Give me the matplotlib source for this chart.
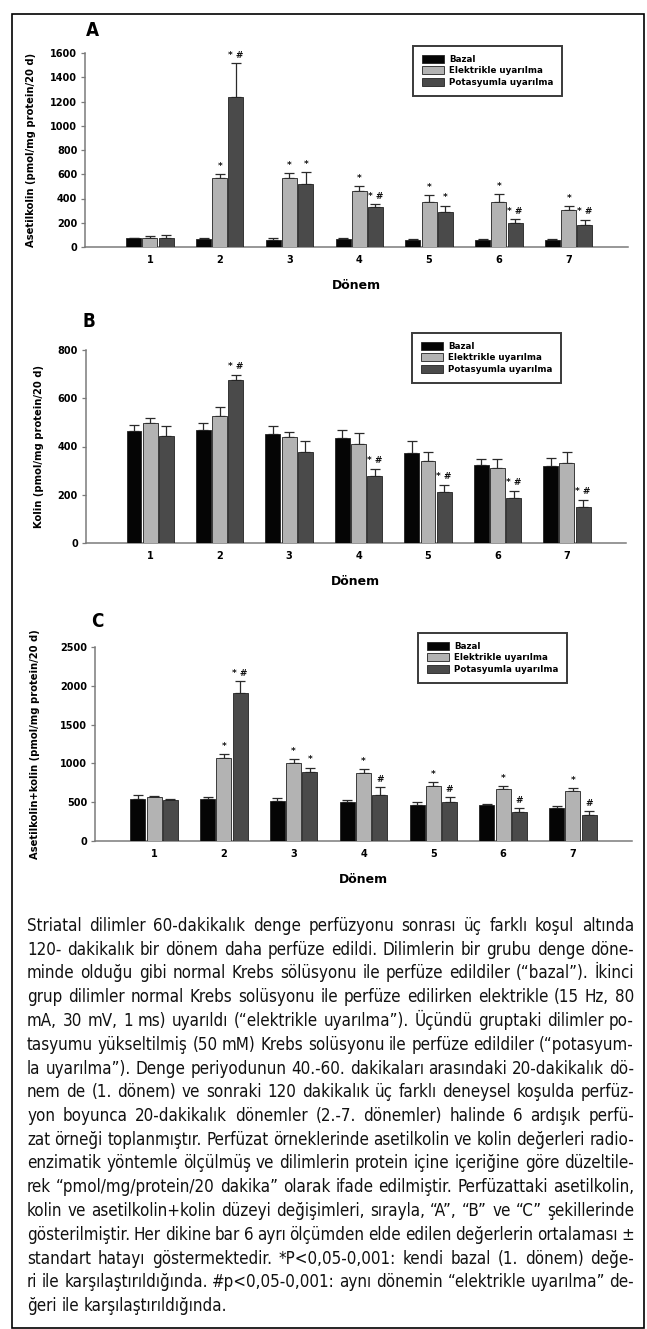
import matplotlib
matplotlib.use("Agg")
import matplotlib.pyplot as plt
import numpy as np
from matplotlib import font_manager as fm
from matplotlib.patches import Rectangle

W, H = 647, 1329
DPI = 100

periods = ['1', '2', '3', '4', '5', '6', '7']
series_names = ['Bazal', 'Elektrikle uyarılma', 'Potasyumla uyarılma']

A_bazal = [72, 66, 61, 66, 58, 58, 61]
A_bazal_err = [5, 5, 12, 6, 5, 5, 4]
A_elek = [72, 566, 571, 463, 372, 370, 309]
A_elek_err = [20, 35, 39, 39, 53, 66, 28]
A_potas = [72, 1241, 521, 326, 292, 196, 182]
A_potas_err = [27, 276, 94, 27, 47, 33, 41]
A_elek_sig = ['', '*', '*', '*', '*', '*', '*']
A_potas_sig = ['', '* #', '*', '* #', '*', '* #', '* #']

B_bazal = [463, 470, 450, 434, 374, 324, 320]
B_bazal_err = [27, 27, 33, 35, 48, 24, 34]
B_elek = [497, 528, 440, 410, 338, 310, 330]
B_elek_err = [22, 35, 19, 44, 39, 38, 48]
B_potas = [444, 676, 379, 276, 210, 185, 150]
B_potas_err = [43, 21, 43, 32, 31, 32, 29]
B_elek_sig = ['', '', '', '', '', '', '']
B_potas_sig = ['', '* #', '', '* #', '* #', '* #', '* #']

C_bazal = [541, 541, 520, 503, 468, 460, 430]
C_bazal_err = [47, 26, 38, 30, 39, 21, 25]
C_elek = [567, 1070, 1009, 872, 709, 666, 640]
C_elek_err = [13, 47, 48, 52, 51, 38, 43]
C_potas = [524, 1907, 885, 597, 503, 378, 339]
C_potas_err = [21, 151, 60, 95, 60, 47, 43]
C_elek_sig = ['', '*', '*', '*', '*', '*', '*']
C_potas_sig = ['', '* #', '*', '#', '#', '#', '#']

A_ticks = [0, 200, 400, 600, 800, 1000, 1200, 1400, 1600]
B_ticks = [0, 200, 400, 600, 800]
C_ticks = [0, 500, 1000, 1500, 2000, 2500]

caption_lines = [
    "Striatal dilimler 60-dakikalık denge perfüzyonu sonrası üç farklı koşul altında",
    "120- dakikalık bir dönem daha perfüze edildi. Dilimlerin bir grubu denge döne-",
    "minde olduğu gibi normal Krebs sölüsyonu ile perfüze edildiler (“bazal”). İkinci",
    "grup dilimler normal Krebs solüsyonu ile perfüze edilirken elektrikle (15 Hz, 80",
    "mA, 30 mV, 1 ms) uyarıldı (“elektrikle uyarılma”). Üçündü gruptaki dilimler po-",
    "tasyumu yükseltilmiş (50 mM) Krebs solüsyonu ile perfüze edildiler (“potasyum-",
    "la uyarılma”). Denge periyodunun 40.-60. dakikaları arasındaki 20-dakikalık dö-",
    "nem de (1. dönem) ve sonraki 120 dakikalık üç farklı deneysel koşulda perfüz-",
    "yon boyunca 20-dakikalık dönemler (2.-7. dönemler) halinde 6 ardışık perfü-",
    "zat örneği toplanmıştır. Perfüzat örneklerinde asetilkolin ve kolin değerleri radio-",
    "enzimatik yöntemle ölçülmüş ve dilimlerin protein içine içeriğine göre düzeltile-",
    "rek “pmol/mg/protein/20 dakika” olarak ifade edilmiştir. Perfüzattaki asetilkolin,",
    "kolin ve asetilkolin+kolin düzeyi değişimleri, sırayla, “A”, “B” ve “C” şekillerinde",
    "gösterilmiştir. Her dikine bar 6 ayrı ölçümden elde edilen değerlerin ortalaması ±",
    "standart hatayı göstermektedir. *P<0,05-0,001: kendi bazal (1. dönem) değe-",
    "ri ile karşılaştırıldığında. #p<0,05-0,001: aynı dönemin “elektrikle uyarılma” de-",
    "ğeri ile karşılaştırıldığında.",
]

names = {f.name for f in fm.fontManager.ttflist}
def pick(cands, default):
    for c in cands:
        if c in names:
            return c
    return default

narrow = pick(['Liberation Sans Narrow', 'Arial Narrow', 'Nimbus Sans Narrow'], None)
if narrow:
    cap_prop = dict(family=narrow)
else:
    cap_prop = dict(family='DejaVu Sans', stretch='condensed')
chart_font = 'DejaVu Sans'

colors = ['#050505', '#b3b3b3', '#4a4a4a']
axis_gray = '#7a7a7a'

fig = plt.figure(figsize=(W / DPI, H / DPI), dpi=DPI)
fig.patch.set_facecolor('white')

def fx(px):
    return px / W
def fy(py):
    return 1 - py / H

# outer frame
fig.add_artist(Rectangle((fx(12), fy(1328)), fx(644) - fx(12), fy(14) - fy(1328),
                         transform=fig.transFigure, fill=False, ec='black', lw=1.2))

def panel(left, right, top, bottom, xlim, data, errs, sigs, ticks, ylabel, ylab_x,
          letter, letter_xy, leg_xy):
    ax = fig.add_axes([fx(left), fy(bottom), fx(right) - fx(left), fy(top) - fy(bottom)])
    x = np.arange(1, len(periods) + 1)
    off = 0.232
    wbar = 0.215
    for i, (vals, er, sig) in enumerate(zip(data, errs, sigs)):
        xi = x + (i - 1) * off
        ax.bar(xi, vals, width=wbar, color=colors[i], edgecolor='#222222', lw=0.6,
               label=series_names[i], zorder=3)
        ax.errorbar(xi, vals, yerr=[np.zeros(len(er)), er], fmt='none',
                    ecolor='#2a2a2a', elinewidth=0.9, capsize=3.6, capthick=0.9, zorder=2)
        if sig is not None:
            for xx, v, e, s in zip(xi, vals, er, sig):
                if s:
                    ax.annotate(s, (xx, v + e), xytext=(0, 2.5), textcoords='offset points',
                                ha='center', va='bottom', fontsize=6.5, fontweight='bold',
                                family=chart_font, color='#111111')
    ax.set_xlim(*xlim)
    ax.set_ylim(0, ticks[-1])
    ax.set_yticks(ticks)
    ax.set_xticks(x)
    ax.set_xticklabels(periods)
    for sp in ['top', 'right']:
        ax.spines[sp].set_visible(False)
    for sp in ['left', 'bottom']:
        ax.spines[sp].set_color(axis_gray)
        ax.spines[sp].set_linewidth(1.1)
    ax.tick_params(axis='x', length=0, pad=6, labelsize=7)
    ax.tick_params(axis='y', length=3, width=0.9, color=axis_gray, pad=2.5, labelsize=7)
    for lab in ax.get_xticklabels() + ax.get_yticklabels():
        lab.set_fontweight('bold')
        lab.set_family(chart_font)
    ax.set_xlabel('Dönem', fontsize=9, fontweight='bold', family=chart_font, labelpad=10)
    ax.set_ylabel(ylabel, fontsize=7.2, fontweight='bold', family=chart_font)
    ax.yaxis.set_label_coords((ylab_x - left) / (right - left), 0.5)
    ax.yaxis.label.set_va('center')
    fig.text(fx(letter_xy[0]), fy(letter_xy[1]), letter, ha='center', va='center',
             fontsize=13.5, fontweight='bold', **cap_prop)
    leg = ax.legend(loc='upper left', bbox_to_anchor=(fx(leg_xy[0]), fy(leg_xy[1])),
                    bbox_transform=fig.transFigure, borderaxespad=0, fancybox=False,
                    prop=dict(family=chart_font, weight='bold', size=6.3),
                    handlelength=2.5, handleheight=1.0, handletextpad=0.6,
                    labelspacing=0.3, borderpad=1.0, framealpha=1)
    leg.get_frame().set_edgecolor('#3a3a3a')
    leg.get_frame().set_linewidth(1.4)
    return ax

panel(85, 628, 53, 247, (0.07, 7.85),
      [A_bazal, A_elek, A_potas], [A_bazal_err, A_elek_err, A_potas_err],
      [None, A_elek_sig, A_potas_sig], A_ticks,
      'Asetilkolin (pmol/mg protein/20 d)', 31, 'A', (92, 31), (413, 46))

panel(85.5, 626, 350, 543, (0.07, 7.85),
      [B_bazal, B_elek, B_potas], [B_bazal_err, B_elek_err, B_potas_err],
      [None, B_elek_sig, B_potas_sig], B_ticks,
      'Kolin (pmol/mg protein/20 d)', 39, 'B', (89, 322), (412, 333))

panel(95, 632, 647, 841, (0.155, 7.845),
      [C_bazal, C_elek, C_potas], [C_bazal_err, C_elek_err, C_potas_err],
      [None, C_elek_sig, C_potas_sig], C_ticks,
      'Asetilkolin+kolin (pmol/mg protein/20 d)', 35, 'C', (97, 622), (418, 633))

# caption (justified)
renderer = fig.canvas.get_renderer()
x_left, x_right = 27, 634
base0, step = 931, 23.75
cap_size = 12.2
for li, line in enumerate(caption_lines):
    yb = fy(base0 + li * step)
    words = line.split(' ')
    texts = []
    widths = []
    for wd in words:
        t = fig.text(0, yb, wd, ha='left', va='baseline', fontsize=cap_size,
                     color='#111111', **cap_prop)
        widths.append(t.get_window_extent(renderer).width)
        texts.append(t)
    last = li == len(caption_lines) - 1
    if last or len(words) == 1:
        space = fig.text(0, 0, 'a a', fontsize=cap_size, **cap_prop)
        sw = space.get_window_extent(renderer).width
        space2 = fig.text(0, 0, 'aa', fontsize=cap_size, **cap_prop)
        sw -= space2.get_window_extent(renderer).width
        space.remove(); space2.remove()
        gap = sw
    else:
        gap = (x_right - x_left - sum(widths)) / (len(words) - 1)
    xp = x_left
    for t, wdt in zip(texts, widths):
        t.set_x(fx(xp))
        xp += wdt + gap

fig.savefig('out.png', dpi=DPI, facecolor='white')
